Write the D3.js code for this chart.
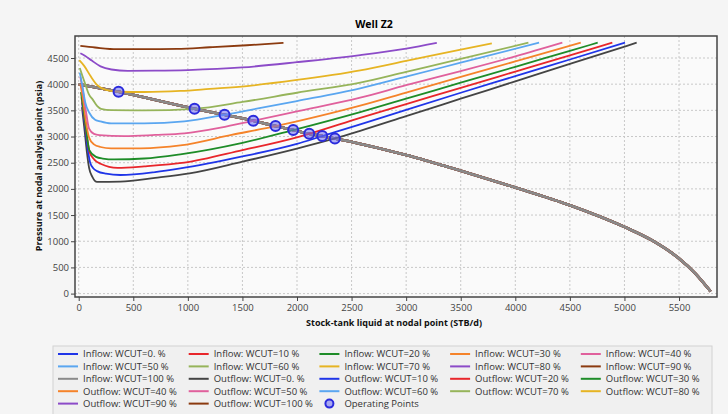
<!DOCTYPE html>
<html>
<head>
<meta charset="utf-8">
<script src="https://cdn.jsdelivr.net/npm/d3@7/dist/d3.min.js"></script>
<style>
	body { margin: 0; background: #f5f5f5; font-family: "Open Sans", sans-serif; }
	.grid line { stroke: #c8c8c8; stroke-dasharray: 2,2; }
	.axis text { font-size: 9.5px; fill: #444; font-family: "Open Sans", sans-serif; }
	.axis line { stroke: #444; }
	.axis path { display: none; }
	.lbl { font-size: 9px; font-weight: bold; fill: #111; }
	.leg text { font-size: 9.5px; fill: #333; }
</style>
</head>
<body>
<div id="chart"></div>
<script>
// water cut cases
const wcutLabels = ["0.", "10", "20", "30", "40", "50", "60", "70", "80", "90", "100"]

const xTicks = [0, 500, 1000, 1500, 2000, 2500, 3000, 3500, 4000, 4500, 5000, 5500]
const yTicks = [0, 500, 1000, 1500, 2000, 2500, 3000, 3500, 4000, 4500]

// inflow (IPR) - every WCUT case falls on the same curve
const inflowCurve = [[0, 4000], [365, 3855], [1061, 3530], [1336, 3416], [1599, 3301], [1803, 3199],
	[1965, 3123], [2112, 3052], [2231, 3008], [2347, 2964], [3000, 2645], [3500, 2345], [4000, 2027],
	[4500, 1689], [5000, 1274], [5250, 1019], [5500, 669], [5650, 382], [5790, 40]]

// outflow (VLP) curves, rate STB/d vs pressure psia
const out0 = [[30, 3560], [55, 3100], [75, 2700], [95, 2400], [125, 2230], [168, 2134], [381, 2140], [700, 2210],
	[1015, 2295], [1500, 2520], [1999, 2770], [2347, 2964], [2579, 3110], [3000, 3390], [3500, 3722], [4000, 4054], [4500, 4386], [5112, 4792]]
const out10 = [[30, 3650], [55, 3250], [80, 2800], [105, 2500], [135, 2390], [168, 2339], [250, 2290], [381, 2265], [700, 2320],
	[931, 2390], [1500, 2620], [1999, 2860], [2231, 3008], [2579, 3230], [3000, 3510], [3500, 3836], [4000, 4153], [4500, 4471], [5005, 4792]]
const out20 = [[25, 3750], [50, 3400], [75, 3000], [100, 2700], [143, 2560], [200, 2480], [356, 2402], [600, 2430],
	[967, 2500], [1500, 2740], [1999, 2985], [2112, 3052], [2579, 3358], [3000, 3619], [3500, 3930], [4000, 4240], [4500, 4550], [4889, 4792]]
const out30 = [[20, 3850], [45, 3500], [70, 3100], [97, 2741], [158, 2612], [220, 2580], [326, 2563], [600, 2580],
	[931, 2660], [1500, 2880], [1965, 3123], [2579, 3467], [3000, 3723], [3500, 4028], [4000, 4332], [4500, 4637], [4755, 4792]]
const out40 = [[15, 4000], [40, 3700], [65, 3300], [95, 2980], [140, 2850], [200, 2800], [296, 2773], [570, 2775],
	[931, 2830], [1400, 3030], [1803, 3199], [1999, 3290], [2579, 3590], [3000, 3840], [3500, 4138], [4000, 4435], [4600, 4792]]
const out50 = [[15, 4140], [40, 3850], [65, 3500], [95, 3150], [140, 3050], [189, 3028], [418, 3008], [700, 3030],
	[967, 3060], [1300, 3170], [1599, 3301], [1999, 3480], [2579, 3741], [3000, 3980], [3500, 4250], [4000, 4530], [4431, 4792]]
const out60 = [[10, 4220], [35, 3950], [60, 3650], [97, 3454], [150, 3320], [189, 3295], [296, 3251], [600, 3250],
	[967, 3290], [1336, 3416], [1600, 3520], [1999, 3678], [2579, 3920], [3000, 4143], [3500, 4410], [4218, 4792]]
const out70 = [[10, 4310], [35, 4150], [60, 4000], [95, 3800], [127, 3710], [170, 3580], [204, 3530], [300, 3505], [600, 3500],
	[1061, 3530], [1500, 3660], [1999, 3836], [2579, 4030], [3000, 4237], [3500, 4482], [4120, 4792]]
const out80 = [[5, 4460], [50, 4350], [110, 4150], [170, 3980], [250, 3890], [365, 3855], [600, 3850], [931, 3870],
	[1200, 3910], [1541, 3964], [2000, 4080], [2579, 4265], [3000, 4445], [3500, 4660], [3785, 4780]]
const out90 = [[15, 4590], [60, 4540], [120, 4450], [200, 4340], [300, 4280], [450, 4255], [700, 4258], [1000, 4270],
	[1500, 4320], [2000, 4420], [2579, 4555], [3000, 4680], [3281, 4790]]
const out100 = [[15, 4730], [150, 4700], [350, 4668], [600, 4668], [900, 4675], [1200, 4705], [1541, 4743], [1876, 4790]]

const outflowCurves = [out0, out10, out20, out30, out40, out50, out60, out70, out80, out90, out100]

// operating points (intersections)
const opRate = [365, 1061, 1336, 1599, 1803, 1965, 2112, 2231, 2347]
const opPress = [3855, 3530, 3416, 3301, 3199, 3123, 3052, 3008, 2964]

const palette = ["#1f35e8", "#e8262b", "#1e8c28", "#f5832a", "#e0609c", "#5aa6f0", "#96b45a", "#e6b423",
	"#8c4bc8", "#8b3a0f", "#8a8a8a", "#444444"]

const W = 728, H = 414
const mLeft = 75, mRight = 717, mTop = 36, mBottom = 297

const svg = d3.select("#chart").append("svg").attr("width", W).attr("height", H)

const xs = d3.scaleLinear().domain([-34, 5848]).range([mLeft, mRight])
const ys = d3.scaleLinear().domain([-65, 4920]).range([mBottom, mTop])

svg.append("rect").attr("x", mLeft).attr("y", mTop).attr("width", mRight - mLeft).attr("height", mBottom - mTop)
	.style("fill", "#fafafa")

// grid
const grid = svg.append("g").attr("class", "grid")
grid.selectAll(".gx").data(xTicks).join("line").attr("class", "gx")
	.attr("x1", d => xs(d)).attr("x2", d => xs(d)).attr("y1", mTop).attr("y2", mBottom)
grid.selectAll(".gy").data(yTicks).join("line").attr("class", "gy")
	.attr("x1", mLeft).attr("x2", mRight).attr("y1", d => ys(d)).attr("y2", d => ys(d))

svg.append("g").attr("class", "axis").attr("transform", `translate(0,${mBottom})`)
	.call(d3.axisBottom(xs).tickValues(xTicks).tickFormat(d3.format("d")).tickSize(4).tickPadding(3))
svg.append("g").attr("class", "axis").attr("transform", `translate(${mLeft},0)`)
	.call(d3.axisLeft(ys).tickValues(yTicks).tickFormat(d3.format("d")).tickSize(4).tickPadding(2))

// series
const line = d3.line().x(d => xs(d[0])).y(d => ys(d[1])).curve(d3.curveMonotoneX)
const series = []
wcutLabels.forEach(w => series.push({ name: `Inflow: WCUT=${w} %`, data: inflowCurve, width: 2.6 }))
wcutLabels.forEach((w, i) => series.push({ name: `Outflow: WCUT=${w} %`, data: outflowCurves[i], width: 1.8 }))
series.forEach((s, k) => s.color = palette[k % palette.length])

const plot = svg.append("g")
plot.selectAll("path").data(series).join("path")
	.attr("d", d => line(d.data))
	.style("fill", "none")
	.style("stroke", d => d.color)
	.style("stroke-width", d => d.width)

plot.selectAll("circle").data(opRate).join("circle")
	.attr("cx", d => xs(d))
	.attr("cy", (d, i) => ys(opPress[i]))
	.attr("r", 5)
	.style("fill", "rgba(110,110,240,0.55)")
	.style("stroke", "#2b2bdc")
	.style("stroke-width", 2)

// frame
svg.append("rect").attr("x", mLeft).attr("y", mTop).attr("width", mRight - mLeft).attr("height", mBottom - mTop)
	.style("fill", "none").style("stroke", "#444").style("stroke-width", 1.5)

svg.append("text").attr("x", 374).attr("y", 28).attr("text-anchor", "middle")
	.style("font-size", "10.5px").style("font-weight", "bold").text("Well Z2")
svg.append("text").attr("class", "lbl").attr("x", (mLeft + mRight) / 2 - 2).attr("y", 326).attr("text-anchor", "middle")
	.text("Stock-tank liquid at nodal point (STB/d)")
svg.append("text").attr("class", "lbl").attr("text-anchor", "middle")
	.attr("transform", "translate(42,166) rotate(-90)")
	.text("Pressure at nodal analysis point (psia)")

// legend
const leg = svg.append("g").attr("class", "leg")
leg.append("rect").attr("x", 53).attr("y", 346).attr("width", 659).attr("height", 80)
	.style("fill", "#f0f0f0").style("stroke", "#d2d2d2")
const items = series.concat([{ name: "Operating Points", point: true }])
const item = leg.selectAll(".item").data(items).join("g").attr("class", "item")
	.attr("transform", (d, i) => `translate(${58 + (i % 5) * 130.7},${354 + Math.floor(i / 5) * 12.4})`)
item.filter(d => !d.point).append("line")
	.attr("x1", 0).attr("x2", 20)
	.style("stroke", d => d.color).style("stroke-width", 2)
item.filter(d => d.point).append("circle")
	.attr("cx", 10).attr("r", 4)
	.style("fill", "rgba(110,110,240,0.55)").style("stroke", "#2b2bdc").style("stroke-width", 2)
item.append("text").attr("x", 25).attr("dy", "0.35em").text(d => d.name)
</script>
</body>
</html>
